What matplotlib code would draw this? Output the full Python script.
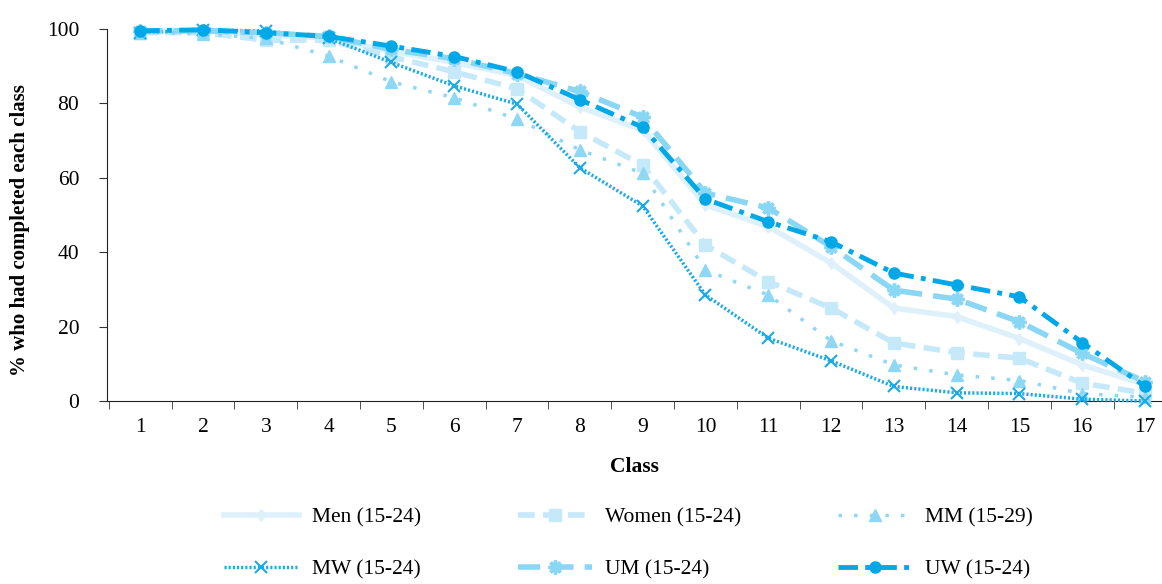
import numpy as np
import matplotlib
matplotlib.use("Agg")
import matplotlib.pyplot as plt

plt.rcParams['font.family'] = ['Liberation Serif', 'DejaVu Serif']

classes = list(range(1, 18))

men   = [99.5, 99.5, 98.5, 97.5, 94.0, 91.0, 87.5, 79.0, 72.8, 52.7, 46.9, 37.1, 25.0, 22.7, 16.8, 9.7, 4.5]
women = [99.0, 99.0, 97.0, 97.0, 92.5, 88.5, 83.9, 72.4, 63.4, 41.9, 32.1, 25.0, 15.6, 13.0, 11.5, 4.8, 2.1]
mm    = [99.0, 98.7, 97.5, 92.7, 85.8, 81.5, 75.8, 67.5, 61.2, 35.2, 28.5, 16.2, 9.7, 7.0, 5.5, 2.0, 1.0]
mw    = [99.0, 99.7, 99.5, 97.5, 91.0, 84.7, 79.8, 62.7, 52.4, 28.5, 16.9, 10.8, 3.9, 2.2, 2.0, 0.5, 0.0]
um    = [99.5, 99.5, 99.0, 98.0, 94.5, 92.0, 88.0, 83.2, 76.3, 55.9, 51.9, 41.5, 29.8, 27.4, 21.3, 12.8, 5.2]
uw    = [99.5, 99.8, 99.0, 98.0, 95.4, 92.6, 88.5, 81.0, 73.6, 54.3, 48.2, 42.8, 34.4, 31.2, 28.0, 15.7, 3.9]

fig = plt.figure(figsize=(11.62, 5.84), dpi=100)
ax = fig.add_axes([107/1162, 1 - 401/584, 1 - 107/1162, 372/584])

l_men, = ax.plot(classes, men, color='#def1fb', lw=4, marker='d', ms=6, label='Men (15-24)', clip_on=False, zorder=2)
l_women, = ax.plot(classes, women, color='#c6e9f9', lw=4, ls=(0, (3, 1.5)), marker='s', ms=9, label='Women (15-24)', clip_on=False, zorder=3)
l_mm, = ax.plot(classes, mm, color='#8ed7f5', lw=2.5, ls=(0, (1, 3.5)), marker='^', ms=8, label='MM (15-29)', clip_on=False, zorder=3)
l_mw, = ax.plot(classes, mw, color='#1aaae8', lw=2.5, ls=(0, (0.6, 0.6)), marker='x', ms=9, mew=1.5, label='MW (15-24)', clip_on=False, zorder=4)
l_um, = ax.plot(classes, um, color='#8ad6f5', lw=4, ls=(0, (4, 2)), marker=(8, 2, 0), ms=10, mew=2.5, label='UM (15-24)', clip_on=False, zorder=4)
l_uw, = ax.plot(classes, uw, color='#00a8e8', lw=3.5, ls=(0, (4, 1.5, 1, 1.5)), marker='o', ms=8, label='UW (15-24)', clip_on=False, zorder=5)

ax.set_xlim(0.47, 17.27)
ax.set_ylim(0, 100)
ax.set_xticks(classes)
ax.set_xticks(np.arange(0.5, 17.5, 1.0), minor=True)
ax.tick_params(axis='x', which='major', length=0, labelsize=15.5, pad=12)
ax.tick_params(axis='x', which='minor', length=6, color='#333333')
ax.set_yticks([0, 20, 40, 60, 80, 100])
ax.tick_params(axis='y', length=6, labelsize=15.5, pad=14, color='#333333')
ax.spines['top'].set_visible(False)
ax.spines['right'].set_visible(False)
ax.spines['left'].set_color('#222222')
ax.spines['bottom'].set_color('#222222')

ax.set_xlabel('Class', fontsize=15.5, fontweight='bold', labelpad=15)
ax.set_ylabel('% who had completed each class', fontsize=15, fontweight='bold', labelpad=9)
ax.yaxis.set_label_coords(-0.073, 0.46)

handles = [l_men, l_mw, l_women, l_um, l_mm, l_uw]
fig.legend(handles=handles, labels=[h.get_label() for h in handles], ncol=3,
           loc='center', bbox_to_anchor=(0.541, 0.069), frameon=False,
           fontsize=15.5, handlelength=3.45, handletextpad=0.6, columnspacing=4.5,
           labelspacing=1.5)

fig.savefig('out.png', dpi=100)
